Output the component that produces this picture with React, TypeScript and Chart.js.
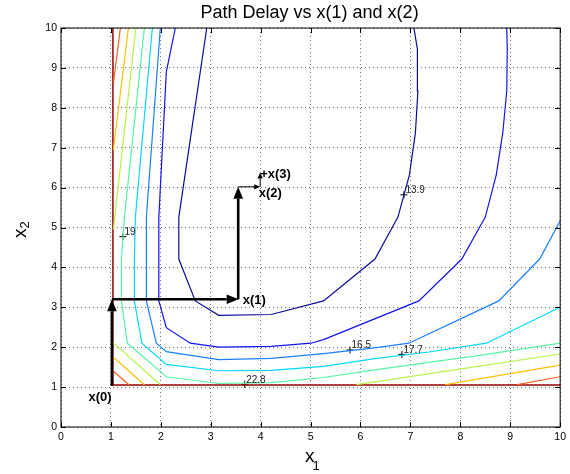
import { useEffect, useRef } from 'react';
import { Chart, registerables } from 'chart.js';

Chart.register(...registerables);

const FONT = '"Liberation Sans", Arial, Helvetica, sans-serif';

const titleText = 'Path Delay vs x(1) and x(2)';
const tickValues = [0, 1, 2, 3, 4, 5, 6, 7, 8, 9, 10];

// Contour polylines (null = gap)
const level139X = [2.92, 2.36, 2.36, 2.69, 3.16, 4.21, 5.26, 6.29, 6.75, 6.98, 7.10, 7.15, 7.14, 7.07];
const level139Y = [10, 5.26, 4.21, 3.16, 2.80, 2.82, 3.16, 4.21, 5.26, 6.32, 7.37, 8.42, 9.47, 10];

const level152X = [2.29, 2.11, 1.96, 1.96, 2.11, 2.59, 3.16, 4.21, 5.01, 5.26, 7.17, 8.03, 8.50, 8.72, 8.85, 8.93, 8.94, 8.93];
const level152Y = [10, 8.9, 5.26, 3.16, 2.49, 2.10, 2.0, 2.02, 2.10, 2.19, 3.16, 4.21, 5.26, 6.32, 7.37, 8.42, 9.47, 10];

const level165X = [1.99, 1.71, 1.71, 1.91, 2.11, 3.16, 4.21, 5.26, 6.32, 6.97, 8.77, 9.59, 10];
const level165Y = [10, 5.26, 3.16, 2.10, 1.89, 1.69, 1.72, 1.84, 1.99, 2.10, 3.16, 4.21, 5.17];

const level177X = [1.83, 1.49, 1.47, 1.47, 1.62, 2.11, 3.16, 4.21, 5.26, 6.32, 7.37, 8.52, 10];
const level177Y = [10, 5.26, 4.21, 3.16, 2.10, 1.57, 1.41, 1.42, 1.52, 1.72, 1.88, 2.10, 3.0];

const level190X = [1.67, 1.27, 1.21, 1.21, 1.33, 2.11, 3.16, 4.21, 5.26, 6.32, 7.37, 8.42, 10];
const level190Y = [10, 5.26, 4.21, 3.16, 2.10, 1.26, 1.09, 1.11, 1.24, 1.44, 1.62, 1.80, 2.10];

const level203X = [1.50, 1.05, null, 1.04, 1.99, null, 5.92, 10];
const level203Y = [10, 4.95, null, 2.12, 1.06, null, 1.06, 1.83];

const level215X = [1.35, 1.05, null, 1.04, 1.67, null, 7.7, 10];
const level215Y = [10, 6.95, null, 1.76, 1.06, null, 1.06, 1.55];

const level228X = [1.19, 1.05, null, 1.04, 1.36, null, 9.14, 10];
const level228Y = [10, 8.62, null, 1.41, 1.06, null, 1.06, 1.26];

const level241X = [1.04, 1.04, 10];
const level241Y = [10, 1.05, 1.05];

const contourColors = ['#0c0c98', '#1414f0', '#1a80ff', '#00d8ff', '#55f5a5', '#b4f444', '#ffc000', '#ff6020', '#9a0000'];

// Contour labels
const labelText = ['13.9', '16.5', '17.7', '19', '22.8'];
const labelX = [6.87, 5.79, 6.83, 1.24, 3.68];
const labelY = [5.82, 1.93, 1.82, 4.77, 1.07];

// Path arrows
const arrowX1 = [1.02, 1.02, 3.55, 3.55, 3.99];
const arrowY1 = [1.03, 3.2, 3.2, 6.02, 6.02];
const arrowX2 = [1.02, 3.56, 3.55, 3.99, 3.99];
const arrowY2 = [3.2, 3.2, 6.02, 6.02, 6.38];
const arrowThick = [true, true, true, false, false];

// Path labels
const pathText = ['x(0)', 'x(1)', 'x(2)', '+x(3)'];
const pathX = [0.55, 3.64, 3.96, 3.99];
const pathY = [0.75, 3.18, 5.85, 6.32];

function pts(xs: (number | null)[], ys: (number | null)[]) {
  return xs.map((x, i) => ({ x: x as any, y: ys[i] as any }));
}

function drawArrow(ctx: CanvasRenderingContext2D, x1: number, y1: number, x2: number, y2: number, lw: number, hl: number, hw: number) {
  const ang = Math.atan2(y2 - y1, x2 - x1);
  const c = Math.cos(ang), s = Math.sin(ang);
  const bx = x2 - hl * c, by = y2 - hl * s;
  ctx.lineWidth = lw;
  ctx.beginPath();
  ctx.moveTo(x1, y1);
  ctx.lineTo(bx, by);
  ctx.stroke();
  ctx.beginPath();
  ctx.moveTo(x2, y2);
  ctx.lineTo(bx + hw * s, by - hw * c);
  ctx.lineTo(bx - hw * s, by + hw * c);
  ctx.closePath();
  ctx.fill();
}

export default function App() {
  const ref = useRef<HTMLCanvasElement>(null);
  useEffect(() => {
    const canvas = ref.current!;
    const series = [
      [level139X, level139Y], [level152X, level152Y], [level165X, level165Y],
      [level177X, level177Y], [level190X, level190Y], [level203X, level203Y],
      [level215X, level215Y], [level228X, level228Y], [level241X, level241Y],
    ];
    const datasets: any[] = series.map(([xs, ys], i) => ({
      data: pts(xs as any, ys as any),
      showLine: true,
      borderColor: contourColors[i],
      backgroundColor: contourColors[i],
      borderWidth: i === 8 ? 1.5 : 1.2,
      pointRadius: 0,
      pointHoverRadius: 0,
      fill: false,
      spanGaps: false,
    }));
    datasets.push({
      data: pts(labelX, labelY),
      showLine: false,
      pointStyle: 'cross',
      pointRadius: 3.5,
      borderColor: '#000',
      borderWidth: 1,
    });

    const overlay = {
      id: 'overlay',
      afterDatasetsDraw(chart: any) {
        const { ctx, scales } = chart;
        const xs = scales.x, ys = scales.y;
        ctx.save();
        ctx.fillStyle = '#222';
        ctx.font = `10px ${FONT}`;
        ctx.textAlign = 'left';
        ctx.textBaseline = 'alphabetic';
        labelText.forEach((t, i) => {
          ctx.fillText(t, xs.getPixelForValue(labelX[i]) + 1.5, ys.getPixelForValue(labelY[i]) - 1.5);
        });
        ctx.strokeStyle = '#000';
        ctx.fillStyle = '#000';
        ctx.lineCap = 'butt';
        arrowX1.forEach((_, i) => {
          const thick = arrowThick[i];
          drawArrow(ctx,
            xs.getPixelForValue(arrowX1[i]), ys.getPixelForValue(arrowY1[i]),
            xs.getPixelForValue(arrowX2[i]), ys.getPixelForValue(arrowY2[i]),
            thick ? 2.6 : 1, thick ? 12 : 6, thick ? 4.8 : 2.6);
        });
        ctx.font = `bold 13px ${FONT}`;
        ctx.textBaseline = 'middle';
        pathText.forEach((t, i) => {
          ctx.fillText(t, xs.getPixelForValue(pathX[i]), ys.getPixelForValue(pathY[i]));
        });
        ctx.restore();
      },
      afterDraw(chart: any) {
        const { ctx, chartArea: a, scales } = chart;
        const xs = scales.x, ys = scales.y;
        ctx.save();
        ctx.strokeStyle = '#000';
        ctx.lineWidth = 1;
        ctx.strokeRect(a.left, a.top, a.right - a.left, a.bottom - a.top);
        ctx.beginPath();
        tickValues.forEach((v) => {
          const px = Math.round(xs.getPixelForValue(v)) + 0.5;
          ctx.moveTo(px, a.bottom); ctx.lineTo(px, a.bottom - 5);
          ctx.moveTo(px, a.top); ctx.lineTo(px, a.top + 5);
          const py = Math.round(ys.getPixelForValue(v)) + 0.5;
          ctx.moveTo(a.left, py); ctx.lineTo(a.left + 5, py);
          ctx.moveTo(a.right, py); ctx.lineTo(a.right - 5, py);
        });
        ctx.stroke();
        ctx.fillStyle = '#000';
        ctx.font = `18px ${FONT}`;
        ctx.textAlign = 'center';
        ctx.textBaseline = 'alphabetic';
        ctx.fillText(titleText, (a.left + a.right) / 2 - 1, 17.5);
        ctx.textAlign = 'left';
        ctx.font = `19px ${FONT}`;
        ctx.fillText('x', 305, 462);
        ctx.font = `13px ${FONT}`;
        ctx.fillText('1', 312.5, 470);
        ctx.translate(25.5, 238);
        ctx.rotate(-Math.PI / 2);
        ctx.font = `19px ${FONT}`;
        ctx.fillText('x', 0, 0);
        ctx.font = `13px ${FONT}`;
        ctx.fillText('2', 9.5, 3.5);
        ctx.restore();
      },
    };

    const axisCommon = (pos: string) => ({
      type: 'linear',
      position: pos,
      min: 0,
      max: 10,
      ticks: {
        stepSize: 1,
        autoSkip: false,
        color: '#000',
        font: { family: FONT, size: 10.5 },
        padding: pos === 'bottom' ? 4 : 4,
      },
      grid: {
        drawTicks: false,
        color: 'rgba(0,0,0,0.55)',
        lineWidth: 1,
      },
      border: { display: false, dash: [1, 3] },
    });

    const chart = new Chart(canvas, {
      type: 'scatter',
      data: { datasets },
      options: {
        responsive: false,
        animation: false,
        events: [],
        devicePixelRatio: 1,
        layout: { padding: { top: 28, right: 4, left: 0, bottom: 0 } },
        plugins: { legend: { display: false }, tooltip: { enabled: false }, title: { display: false } },
        scales: {
          x: { ...axisCommon('bottom'), afterFit: (s: any) => { s.height = 47; } } as any,
          y: { ...axisCommon('left'), afterFit: (s: any) => { s.width = 61; } } as any,
        },
      },
      plugins: [overlay],
    } as any);
    return () => chart.destroy();
  }, []);
  return (
    <div style={{ position: 'absolute', left: 0, top: 0, width: 570, height: 474, background: '#fff' }}>
      <canvas ref={ref} width={570} height={474} style={{ width: 570, height: 474 }} />
    </div>
  );
}
